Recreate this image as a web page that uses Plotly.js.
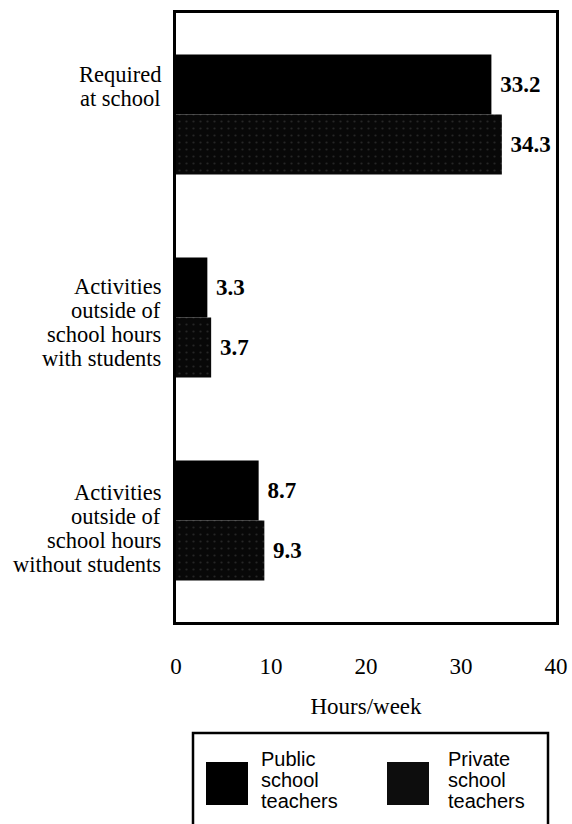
<!DOCTYPE html>
<html>
<head>
<meta charset="utf-8">
<script src="https://cdn.plot.ly/plotly-3.0.1.min.js"></script>
<style>html,body{margin:0;padding:0;background:#fff;}#chart{width:572px;height:824px;}</style>
</head>
<body>
<div id="chart"></div>
<script>
// ---- data ----
const categories = ["Required at school", "Activities with students", "Activities without students"];
const categoryLabelLines = [
  ["Required", "at school"],
  ["Activities", "outside of", "school hours", "with students"],
  ["Activities", "outside of", "school hours", "without students"]
];
const publicHours = [33.2, 3.3, 8.7];
const privateHours = [34.3, 3.7, 9.3];
const seriesNames = ["Public school teachers", "Private school teachers"];
const legendLines = [["Public", "school", "teachers"], ["Private", "school", "teachers"]];
const xTickValues = [0, 10, 20, 30, 40];
const xTitle = "Hours/week";

// ---- layout helpers ----
const W = 572, H = 824;
const M = {l: 176, r: 16, t: 13, b: 202};
const PW = W - M.l - M.r, PH = H - M.t - M.b;
const px2x = px => (px - M.l) / PW;
const px2y = py => (H - M.b - py) / PH;
const serif = "Liberation Serif, Times New Roman, serif";
const sans = "Liberation Sans, Arial, sans-serif";
const valueFont = {family: serif, size: 23, color: "#000", weight: "bold"};

const traces = [
  {
    type: "bar", orientation: "h", name: seriesNames[0],
    y: categories, x: publicHours,
    text: publicHours.map(v => "\u00a0" + v.toFixed(1)),
    textposition: "outside", cliponaxis: false, textfont: valueFont,
    marker: {color: "#000", line: {width: 0}}
  },
  {
    type: "bar", orientation: "h", name: seriesNames[1],
    y: categories, x: privateHours,
    text: privateHours.map(v => "\u00a0" + v.toFixed(1)),
    textposition: "outside", cliponaxis: false, textfont: valueFont,
    marker: {color: "#080808", line: {width: 0},
      pattern: {shape: ".", fgcolor: "#262626", bgcolor: "#080808", size: 7, solidity: 0.08}}
  }
];

// category labels (right-aligned, tight leading)
const labelOffsets = [-28, 5, 8]; // block-centre offset from group centre, px (down positive)
const lineGap = 24;
const annotations = [];
categoryLabelLines.forEach((lines, ci) => {
  const n = lines.length;
  lines.forEach((ln, li) => {
    const dy = labelOffsets[ci] + (li - (n - 1) / 2) * lineGap;
    annotations.push({
      text: ln, xref: "paper", yref: "y", x: px2x(163), y: categories[ci],
      xanchor: "right", yanchor: "middle", yshift: -dy, showarrow: false,
      font: {family: serif, size: 22.5, color: "#000"}
    });
  });
});

// legend (drawn manually for large swatches)
const legendSwatchX = [206, 387];
const legendTextX = [259, 446];
const legendColors = ["#000", "#0d0d0d"];
const shapes = [
  {type: "rect", xref: "paper", yref: "paper",
   x0: px2x(193), x1: px2x(548), y0: px2y(733), y1: px2y(840),
   line: {color: "#000", width: 2.5}, fillcolor: "rgba(0,0,0,0)"}
];
legendSwatchX.forEach((sx, i) => {
  shapes.push({type: "rect", xref: "paper", yref: "paper",
    x0: px2x(sx), x1: px2x(sx + 42), y0: px2y(762), y1: px2y(805),
    line: {width: 0}, fillcolor: legendColors[i]});
  legendLines[i].forEach((ln, li) => {
    annotations.push({
      text: ln, xref: "paper", yref: "paper", x: px2x(legendTextX[i]), y: px2y(759 + li * 21),
      xanchor: "left", yanchor: "middle", showarrow: false,
      font: {family: sans, size: 20, color: "#000"}
    });
  });
});

const layout = {
  width: W, height: H,
  margin: M,
  paper_bgcolor: "#fff", plot_bgcolor: "#fff",
  showlegend: false,
  barmode: "group", bargap: 0.41, bargroupgap: 0,
  xaxis: {
    range: [0, 40], tickvals: xTickValues, ticks: "", showgrid: false, zeroline: false,
    showline: true, mirror: true, linecolor: "#000", linewidth: 3,
    ticklabelstandoff: 21,
    tickfont: {family: serif, size: 23, color: "#000"},
    title: {text: xTitle, font: {family: serif, size: 23, color: "#000"}, standoff: 21}
  },
  yaxis: {
    type: "category", categoryorder: "array", categoryarray: categories,
    range: [2.5, -0.5], showticklabels: false, ticks: "", showgrid: false, zeroline: false,
    showline: true, mirror: true, linecolor: "#000", linewidth: 3
  },
  annotations: annotations,
  shapes: shapes
};

Plotly.newPlot("chart", traces, layout, {staticPlot: true, displayModeBar: false});
</script>
</body>
</html>
